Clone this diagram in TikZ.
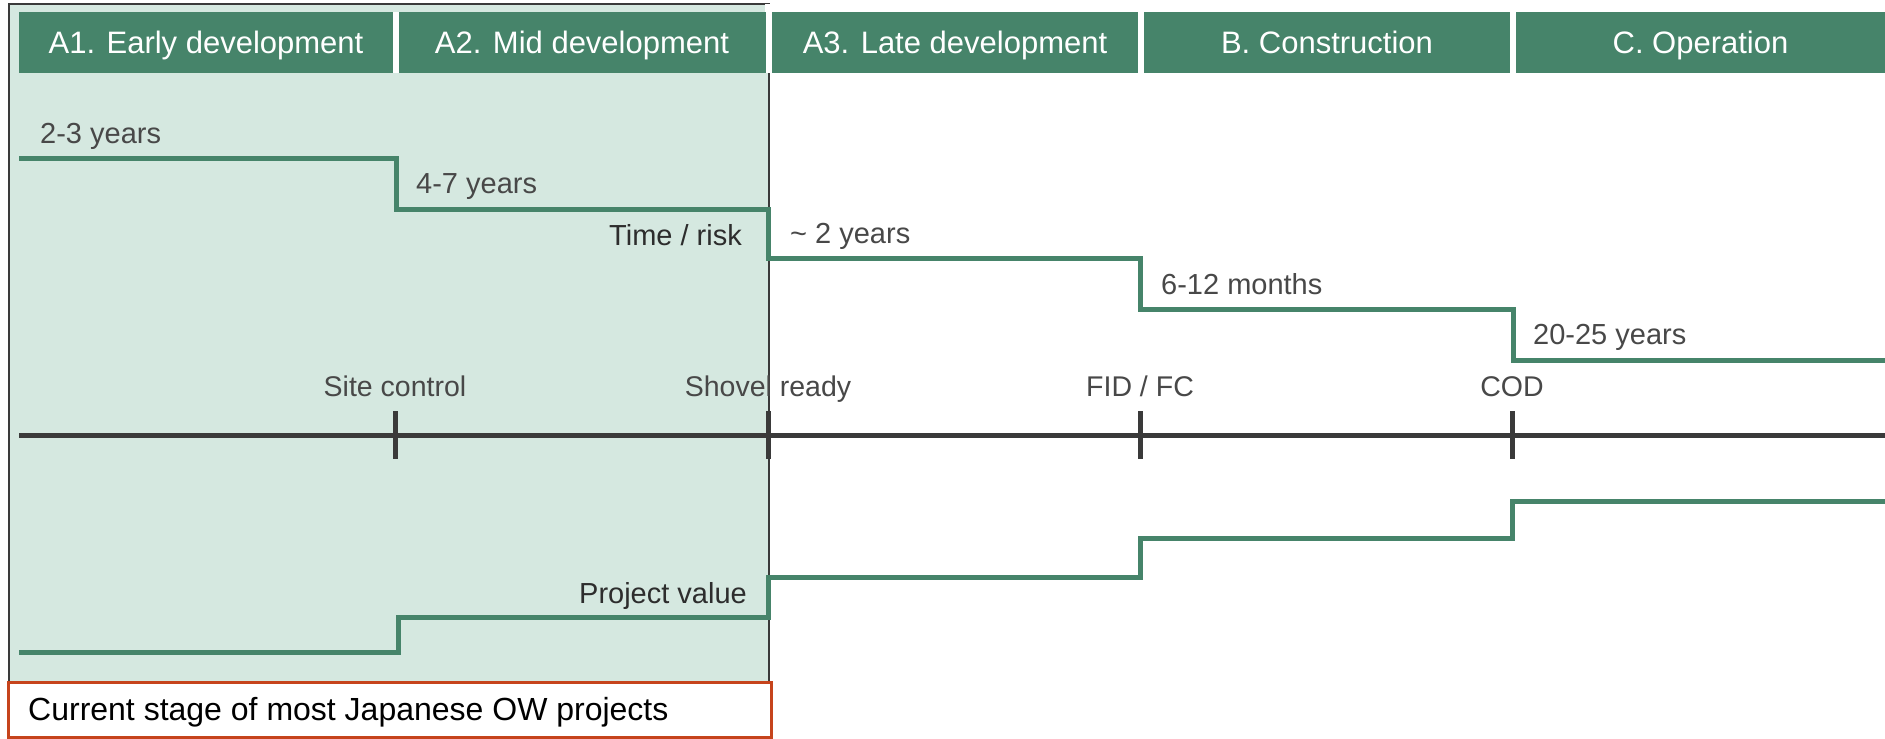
\documentclass[tikz,border=0pt]{standalone}
\usepackage{fontspec}
\setmainfont{Liberation Sans}
\definecolor{hdr}{RGB}{70,132,106}
\definecolor{shade}{RGB}{213,232,224}
\definecolor{redb}{RGB}{198,68,28}
\definecolor{axisc}{RGB}{58,58,58}
\definecolor{lbl}{RGB}{72,72,72}
\definecolor{dark}{RGB}{45,45,45}
\begin{document}
\begin{tikzpicture}[x=1pt,y=-1pt,
  hdrbox/.style={fill=hdr, draw=none, text=white, inner sep=0pt,
    minimum height=61pt, text height=28pt, text depth=6pt,
    font=\fontsize{31}{36}\selectfont},
  durtxt/.style={text=lbl, anchor=base west, inner sep=0pt, font=\fontsize{29}{34}\selectfont},
  ticktxt/.style={text=lbl, anchor=base, inner sep=0pt, font=\fontsize{28.5}{34}\selectfont},
  sertxt/.style={text=dark, anchor=base east, inner sep=0pt, font=\fontsize{29}{34}\selectfont},
  greenline/.style={draw=hdr, line width=5pt, line join=miter},
  axisline/.style={draw=axisc, line width=5pt},
  tickmark/.style={draw=axisc, line width=5pt},
]
\useasboundingbox (0,0) rectangle (1885,739);
\fill[white] (0,0) rectangle (1885,739);
% highlighted region
\draw[fill=shade, draw=axisc, line width=1.5pt] (9,4) rectangle (769,700);
% white gaps between headers
\fill[white] (392,12) rectangle (399,73);
\fill[white] (765,4) rectangle (773,73);
% headers
\node[hdrbox, minimum width=374pt] (a1) at (206,42.5) {A1. Early development};
\node[hdrbox, minimum width=367pt] (a2) at (582,42.5) {A2. Mid development};
\node[hdrbox, minimum width=366pt] (a3) at (955,42.5) {A3. Late development};
\node[hdrbox, minimum width=366pt] (b) at (1327,42.5) {B. Construction};
\node[hdrbox, minimum width=369pt] (c) at (1700.5,42.5) {C. Operation};
% time / risk line
\draw[greenline] (19,158) -| (396,209) -| (768,258) -| (1140,309) -| (1513,360) -- (1885,360);
% project value line
\draw[greenline] (19,652) -| (398,617) -| (768,577) -| (1140,538) -| (1512,501) -- (1885,501);
% axis
\coordinate (axL) at (19,435);
\coordinate (axR) at (1885,435);
\draw[axisline] (axL) -- (axR);
\coordinate (m1) at (395,435);
\coordinate (m2) at (768,435);
\coordinate (m3) at (1140,435);
\coordinate (m4) at (1512,435);
\foreach \m in {m1,m2,m3,m4}{
  \draw[tickmark] ([yshift=24pt]\m) -- ([yshift=-24pt]\m);
}
% milestone labels
\node[ticktxt] (l1) at (395,396) {Site control};
\node[ticktxt] (l2) at (768,396) {Shovel ready};
\node[ticktxt] (l3) at (1140,396) {FID / FC};
\node[ticktxt] (l4) at (1512,396) {COD};
% durations
\node[durtxt] (d1) at (40,143) {2-3 years};
\node[durtxt] (d2) at (416,193) {4-7 years};
\node[durtxt] (d3) at (790,243) {\textasciitilde\ 2 years};
\node[durtxt] (d4) at (1161,294) {6-12 months};
\node[durtxt] (d5) at (1533,344) {20-25 years};
% series labels
\node[sertxt] (tr) at (742,245) {Time / risk};
\node[sertxt] (pv) at (747,603) {Project value};
% current stage box
\draw[draw=redb, fill=white, line width=3pt] (8.5,682.5) rectangle (771.5,737);
\node[anchor=base west, inner sep=0pt, text=black, font=\fontsize{32}{38}\selectfont] (cs) at (28,720) {Current stage of most Japanese OW projects};
\end{tikzpicture}
\end{document}
